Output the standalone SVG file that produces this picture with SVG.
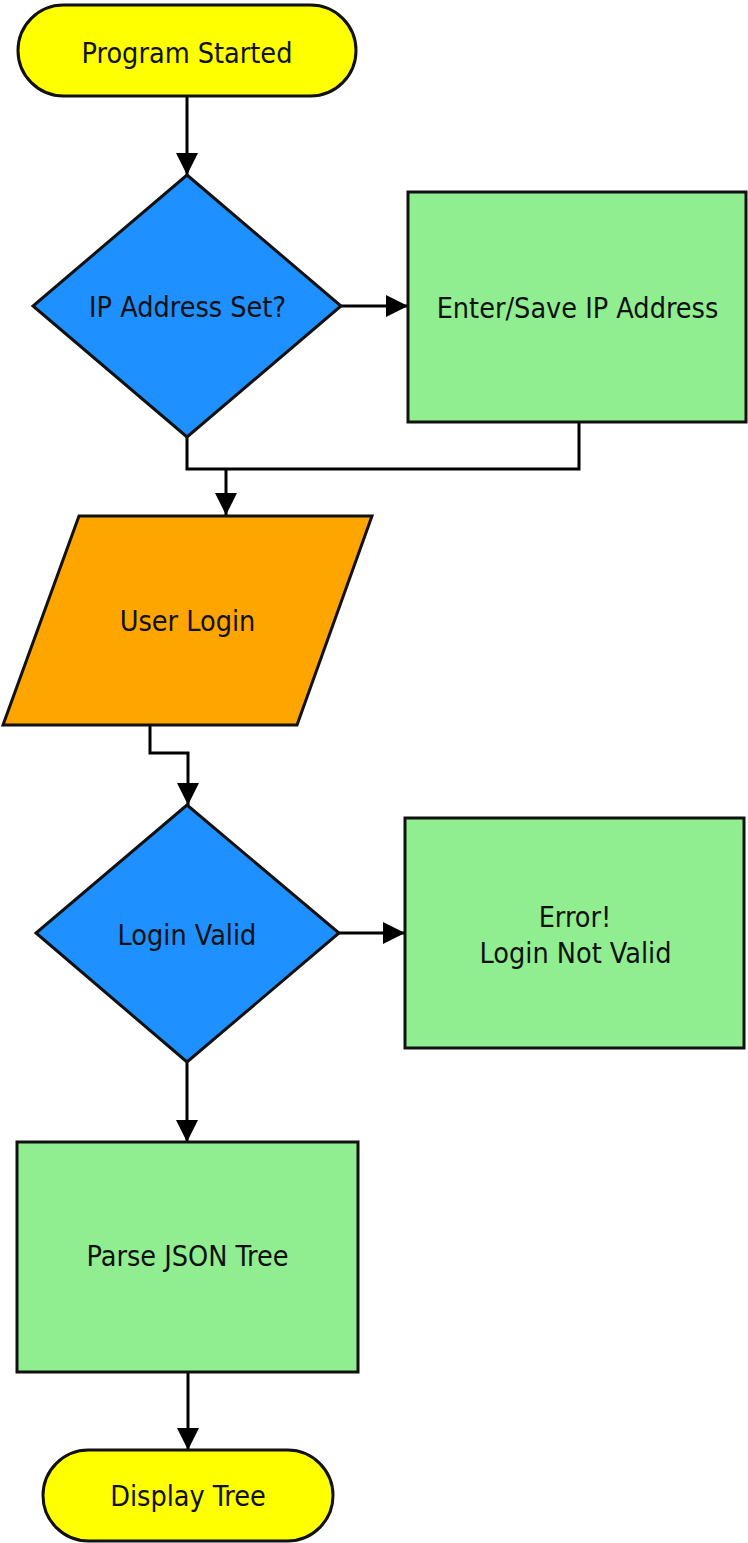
<svg xmlns="http://www.w3.org/2000/svg" width="748" height="1543" viewBox="0 0 748 1543">
  <defs>
    <marker id="arrow" markerUnits="userSpaceOnUse" markerWidth="22" markerHeight="22" refX="22" refY="11" orient="auto">
      <path d="M0,0 L22,11 L0,22 z" fill="#000"/>
    </marker>
    <style>
      .shape { stroke: #111; stroke-width: 3; }
      .terminal { fill: #ffff00; }
      .decision { fill: #1e90ff; }
      .process { fill: #90ee90; }
      .io { fill: #ffa500; }
      .label { font-family: "DejaVu Sans Condensed", "DejaVu Sans", sans-serif; font-size: 28.5px; fill: #111; text-anchor: middle; }
      .edge { fill: none; stroke: #000; stroke-width: 3; }
    </style>
  </defs>
  <rect width="748" height="1543" fill="#fff"/>

  <g id="connectors">
    <path class="edge" d="M187,96 L187,175" marker-end="url(#arrow)"/>
    <path class="edge" d="M341,306 L408,306" marker-end="url(#arrow)"/>
    <path class="edge" d="M187,437 L187,469 L579,469 L579,422"/>
    <path class="edge" d="M226,469 L226,515" marker-end="url(#arrow)"/>
    <path class="edge" d="M150,725 L150,753 L188,753 L188,805" marker-end="url(#arrow)"/>
    <path class="edge" d="M339,933 L405,933" marker-end="url(#arrow)"/>
    <path class="edge" d="M187,1062 L187,1142" marker-end="url(#arrow)"/>
    <path class="edge" d="M188,1372 L188,1450" marker-end="url(#arrow)"/>
  </g>

  <g id="start">
    <rect class="shape terminal" x="18" y="5" width="338" height="91" rx="45.5"/>
    <text class="label" x="187" y="63">Program Started</text>
  </g>

  <g id="ip-check">
    <polygon class="shape decision" points="187,175 341,306 187,437 33,306"/>
    <text class="label" x="187.5" y="317">IP Address Set?</text>
  </g>

  <g id="enter-ip">
    <rect class="shape process" x="408" y="192" width="338" height="230"/>
    <text class="label" x="577.5" y="318">Enter/Save IP Address</text>
  </g>

  <g id="user-login">
    <polygon class="shape io" points="79,516 372,516 297,725 3,725"/>
    <text class="label" x="187.5" y="631">User Login</text>
  </g>

  <g id="login-check">
    <polygon class="shape decision" points="187,805 339,933 187,1062 36,933"/>
    <text class="label" x="187" y="945">Login Valid</text>
  </g>

  <g id="login-error">
    <rect class="shape process" x="405" y="818" width="339" height="230"/>
    <text class="label" x="575" y="927">Error!</text>
    <text class="label" x="575.5" y="963">Login Not Valid</text>
  </g>

  <g id="parse-json">
    <rect class="shape process" x="17" y="1142" width="341" height="230"/>
    <text class="label" x="187.5" y="1266">Parse JSON Tree</text>
  </g>

  <g id="display-tree">
    <rect class="shape terminal" x="43" y="1450" width="290" height="91" rx="45.5"/>
    <text class="label" x="188" y="1506">Display Tree</text>
  </g>
</svg>
